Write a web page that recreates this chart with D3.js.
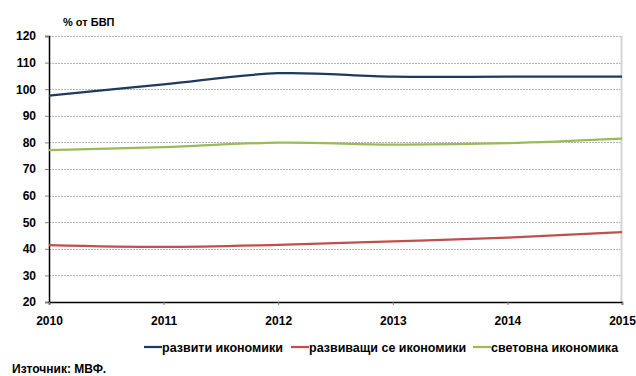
<!DOCTYPE html>
<html>
<head>
<meta charset="utf-8">
<script src="https://cdn.jsdelivr.net/npm/d3@7"></script>
<style>
  html, body { margin: 0; padding: 0; background: #fff; }
  svg { display: block; font-family: "Liberation Sans", Arial, sans-serif; font-weight: bold; }
</style>
</head>
<body>
<svg id="chart" width="636" height="376"></svg>
<script>
const years = [2010, 2011, 2012, 2013, 2014, 2015];
const developed = [97.6, 101.8, 106.0, 104.7, 104.7, 104.7];
const emerging = [41.4, 40.7, 41.5, 42.8, 44.2, 46.3];
const world = [77.1, 78.2, 79.9, 79.2, 79.7, 81.4];
const seriesNames = ["развити икономики", "развиващи се икономики", "световна икономика"];
const seriesColors = ["#1F3A60", "#C0504D", "#9BBB59"];
const yTicks = [20, 30, 40, 50, 60, 70, 80, 90, 100, 110, 120];
const unitLabel = "% от БВП";
const sourceLabel = "Източник: МВФ.";

const svg = d3.select("#chart");
const x = d3.scaleLinear().domain([2010, 2015]).range([49, 622]);
const y = d3.scaleLinear().domain([20, 120]).range([302, 36]);

// gridlines
svg.append("g").selectAll("line").data(yTicks.filter(d => d > 20)).join("line")
  .attr("x1", x(2010)).attr("x2", x(2015))
  .attr("y1", d => Math.round(y(d)) + 0.5).attr("y2", d => Math.round(y(d)) + 0.5)
  .attr("stroke", "#b8b8b8").attr("stroke-width", 1).attr("stroke-dasharray", "2,1");

// right border
svg.append("line").attr("x1", x(2015) - 0.5).attr("x2", x(2015) - 0.5)
  .attr("y1", y(120)).attr("y2", y(20))
  .attr("stroke", "#d4d4d4").attr("stroke-width", 2);

// y axis
const yAxis = d3.axisLeft(y).tickValues(yTicks).tickSize(4).tickPadding(9);
const gy = svg.append("g").attr("transform", `translate(${x(2010)},0)`).call(yAxis);
gy.select(".domain").attr("stroke", "#000").attr("stroke-width", 1.5);
gy.selectAll(".tick line").attr("stroke", "#808080");
gy.selectAll("text").attr("font-size", "12px").attr("font-weight", "bold")
  .attr("font-family", "Liberation Sans, Arial, sans-serif").attr("fill", "#000");

// x axis
const xAxis = d3.axisBottom(x).tickValues(years).tickFormat(d3.format("d")).tickSize(3).tickPadding(11);
const gx = svg.append("g").attr("transform", `translate(0,${y(20)})`).call(xAxis);
gx.select(".domain").attr("stroke", "#000").attr("stroke-width", 1.5);
gx.selectAll(".tick line").attr("stroke", "#808080");
gx.selectAll("text").attr("font-size", "12px").attr("font-weight", "bold")
  .attr("font-family", "Liberation Sans, Arial, sans-serif").attr("fill", "#000");

// lines
const allSeries = [developed, emerging, world];
const line = d3.line().x((d, i) => x(years[i])).y(d => y(d)).curve(d3.curveCatmullRom.alpha(0.5));
svg.append("g").selectAll("path").data(allSeries).join("path")
  .attr("d", d => line(d))
  .attr("fill", "none")
  .attr("stroke", (d, i) => seriesColors[i])
  .attr("stroke-width", 2.25);

// unit label
svg.append("text").attr("x", 63).attr("y", 26).attr("font-size", "11px").text(unitLabel);

// legend
const legendX = [144, 291, 473];
const lg = svg.append("g").selectAll("g").data(seriesNames).join("g")
  .attr("transform", (d, i) => `translate(${legendX[i]},347)`);
lg.append("line").attr("x1", 0).attr("x2", 18).attr("y1", 0).attr("y2", 0)
  .attr("stroke", (d, i) => seriesColors[i]).attr("stroke-width", 2.25);
lg.append("text").attr("x", 18).attr("y", 4.5).attr("font-size", "12.5px").text(d => d);

// source
svg.append("text").attr("x", 12).attr("y", 373).attr("font-size", "12px").text(sourceLabel);
</script>
</body>
</html>
